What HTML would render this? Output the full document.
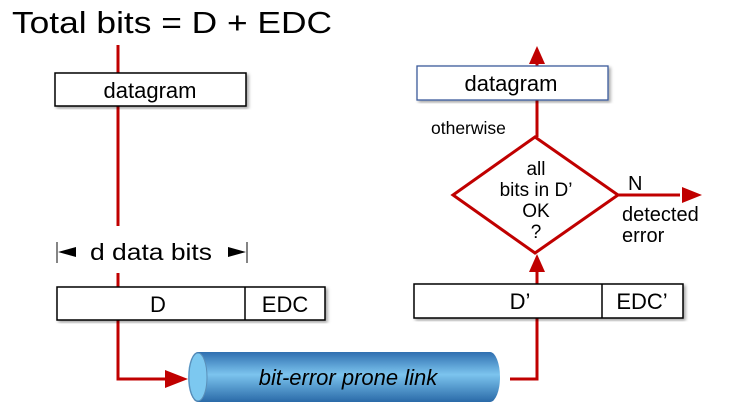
<!DOCTYPE html>
<html><head><meta charset="utf-8"><style>
html,body{margin:0;padding:0;background:#fff;}
svg{display:block;font-family:"Liberation Sans",sans-serif;}
</style></head><body>
<svg width="736" height="416" viewBox="0 0 736 416" xmlns="http://www.w3.org/2000/svg">
<defs>
<linearGradient id="cyl" x1="0" y1="0" x2="0" y2="1">
<stop offset="0" stop-color="#2f6fb0"/><stop offset="0.45" stop-color="#7cc4ee"/><stop offset="1" stop-color="#2a6aa8"/>
</linearGradient>
<filter id="sh"><feDropShadow dx="2" dy="2" stdDeviation="1.5" flood-opacity="0.35"/></filter>
</defs>
<text x="12" y="33" font-size="31" textLength="320" lengthAdjust="spacingAndGlyphs" fill="#000">Total bits = D + EDC</text>
<g stroke="#c00000" stroke-width="3" fill="none">
<line x1="118" y1="45" x2="118" y2="226"/>
<line x1="118" y1="273" x2="118" y2="288"/>
<polyline points="118,320 118,379 170,379"/>
<polyline points="510,379 537,379 537,318"/>
<line x1="537" y1="285" x2="537" y2="270"/>
<line x1="537" y1="100" x2="537" y2="137"/>
<line x1="537" y1="66" x2="537" y2="58"/>
<line x1="618" y1="195" x2="680" y2="195"/>
</g>
<g fill="#c00000">
<polygon points="188,379 165,370 165,388"/>
<polygon points="537,254 529,272 545,272"/>
<polygon points="537,46 529,64 545,64"/>
<polygon points="702,195 682,187 682,203"/>
</g>
<rect x="55" y="73" width="191" height="33" fill="#fff" stroke="#000" stroke-width="1.5" filter="url(#sh)"/>
<text x="150" y="98" font-size="22" text-anchor="middle">datagram</text>
<g stroke="#333" stroke-width="1.2"><line x1="57" y1="242" x2="57" y2="263"/><line x1="247" y1="242" x2="247" y2="263"/></g>
<polygon points="58,252 76,247 76,257" fill="#000"/><polygon points="246,252 228,247 228,257" fill="#000"/>
<text x="151" y="260" font-size="23" text-anchor="middle" textLength="122" lengthAdjust="spacingAndGlyphs">d data bits</text>
<rect x="57" y="287" width="268" height="33" fill="#fff" stroke="#000" stroke-width="1.5" filter="url(#sh)"/>
<line x1="245" y1="287" x2="245" y2="320" stroke="#000" stroke-width="1.5"/>
<text x="158" y="312" font-size="22" text-anchor="middle">D</text>
<text x="285" y="312" font-size="22" text-anchor="middle">EDC</text>
<path d="M198,352 L490,352 A10,25 0 0 1 490,402 L198,402 A10,25 0 0 1 198,352 Z" fill="url(#cyl)"/>
<ellipse cx="198" cy="377" rx="9" ry="24" fill="#7cc8f0" stroke="#5a8fb8"/>
<text x="348" y="385" font-size="22" font-style="italic" text-anchor="middle">bit-error prone link</text>
<rect x="414" y="284" width="269" height="34" fill="#fff" stroke="#000" stroke-width="1.5" filter="url(#sh)"/>
<line x1="602" y1="284" x2="602" y2="318" stroke="#000" stroke-width="1.5"/>
<text x="520" y="309" font-size="22" text-anchor="middle">D’</text>
<text x="642" y="309" font-size="22" text-anchor="middle">EDC’</text>
<polygon points="535,137 618,195 535,253 453,195" fill="#fff" stroke="#c00000" stroke-width="3"/>
<g font-size="19" text-anchor="middle"><text x="536" y="175">all</text><text x="536" y="196">bits in D’</text><text x="536" y="217">OK</text><text x="536" y="238">?</text></g>
<text x="628" y="190" font-size="20">N</text>
<text x="622" y="221" font-size="20">detected</text>
<text x="622" y="242" font-size="20">error</text>
<text x="431" y="134" font-size="17.5">otherwise</text>
<rect x="417" y="66" width="191" height="34" fill="#fff" stroke="#3a5a9a" stroke-width="1.3" filter="url(#sh)"/>
<text x="511" y="91" font-size="22" text-anchor="middle">datagram</text>
</svg>
</body></html>
